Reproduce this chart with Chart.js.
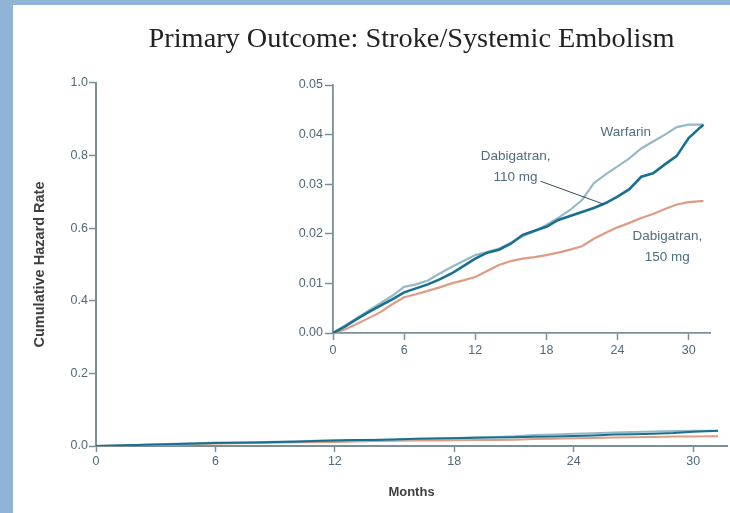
<!DOCTYPE html>
<html>
<head>
<meta charset="utf-8">
<script src="https://cdn.jsdelivr.net/npm/chart.js@4.4.1/dist/chart.umd.min.js"></script>
<style>
  html, body { margin: 0; padding: 0; }
  body { width: 730px; height: 513px; position: relative; background: #ffffff; overflow: hidden; }
  .band-left { position: absolute; left: 0; top: 0; width: 13px; height: 513px; background: #8fb4d6; }
  .band-top { position: absolute; left: 0; top: 0; width: 730px; height: 5px; background: #8fb4d6; }
  #mainChart { position: absolute; left: 0; top: 0; }
  #insetChart { position: absolute; left: 263px; top: 70px; }
</style>
</head>
<body>
<div class="band-left"></div>
<div class="band-top"></div>
<canvas id="mainChart" width="730" height="513"></canvas>
<canvas id="insetChart" width="462" height="300"></canvas>
<script>
// Data (cumulative hazard by month)
const months = [0, 1, 2, 3, 4, 5, 6, 7, 8, 9, 10, 11, 12, 13, 14, 15, 16, 17, 18, 19, 20,
  21, 22, 23, 24, 25, 26, 27, 28, 29, 30, 31, 31.25];
const warfarin = [0, 0.0015, 0.003, 0.0045, 0.006, 0.0075, 0.0093, 0.0098, 0.0106, 0.012, 0.0133,
  0.0145, 0.0157, 0.0163, 0.017, 0.0182, 0.0195, 0.0205, 0.0218, 0.0232, 0.0248,
  0.0268, 0.0302, 0.032, 0.0336, 0.0352, 0.0372, 0.0386, 0.040, 0.0415, 0.042, 0.042, 0.042];
const dabi110 = [0, 0.0013, 0.0028, 0.0042, 0.0055, 0.0068, 0.0082, 0.009, 0.0098, 0.0108, 0.012,
  0.0135, 0.015, 0.0162, 0.0168, 0.018, 0.0198, 0.0206, 0.0214, 0.0228, 0.0236,
  0.0244, 0.0252, 0.0262, 0.0275, 0.029, 0.0315, 0.0322, 0.034, 0.0357, 0.0393, 0.0415, 0.042];
const dabi150 = [0, 0.0007, 0.0018, 0.003, 0.0042, 0.0058, 0.0072, 0.0078, 0.0085, 0.0092, 0.01,
  0.0106, 0.0113, 0.0125, 0.0137, 0.0145, 0.015, 0.0153, 0.0157, 0.0162, 0.0168,
  0.0175, 0.019, 0.0202, 0.0213, 0.0222, 0.0232, 0.024, 0.025, 0.0259, 0.0264, 0.0266, 0.0266];

const xTicks = [0, 6, 12, 18, 24, 30];
const mainYTicks = [0, 0.2, 0.4, 0.6, 0.8, 1.0];
const insetYTicks = [0, 0.01, 0.02, 0.03, 0.04, 0.05];

const AXIS = '#7b8f9b';
const TICK_TEXT = '#516978';
const COLORS = { w: '#97b8c8', d110: '#17708f', d150: '#dc9d84' };

// inset labels, placed in data units
const insetLabels = [
  { lines: ['Warfarin'], month: 24.7, rate: 0.0405 },
  { lines: ['Dabigatran,', '110 mg'], month: 15.4, rate: 0.0336 },
  { lines: ['Dabigatran,', '150 mg'], month: 28.2, rate: 0.0173 }
];
const leader = { from: [17.5, 0.0306], to: [22.8, 0.026] };

function pts(vals) {
  return months.map((m, i) => ({ x: m, y: vals[i] }));
}

function datasets(widths) {
  return [
    { label: 'Dabigatran, 110 mg', data: pts(dabi110), borderColor: COLORS.d110, borderWidth: widths[0] },
    { label: 'Warfarin', data: pts(warfarin), borderColor: COLORS.w, borderWidth: widths[1] },
    { label: 'Dabigatran, 150 mg', data: pts(dabi150), borderColor: COLORS.d150, borderWidth: widths[2] }
  ].map(d => Object.assign(d, { pointRadius: 0, tension: 0, fill: false }));
}

function fixTicks(list) {
  return scale => { scale.ticks = list.map(v => ({ value: v })); };
}

const tickFont = { family: 'Liberation Sans, Arial, sans-serif', size: 12.5 };

// Main chart
new Chart(document.getElementById('mainChart'), {
  type: 'line',
  data: { datasets: datasets([2, 2, 2]) },
  options: {
    responsive: false,
    animation: false,
    devicePixelRatio: 1,
    layout: { padding: { left: 13, top: 0, right: 3, bottom: 0 } },
    plugins: {
      legend: { display: false },
      tooltip: { enabled: false },
      title: {
        display: true,
        fullSize: false,
        text: 'Primary Outcome: Stroke/Systemic Embolism',
        color: '#222222',
        font: { family: 'Liberation Serif, Times New Roman, serif', size: 28.3, weight: 'normal', lineHeight: 1.2 },
        padding: { top: 22.5, bottom: 26.5 }
      }
    },
    scales: {
      x: {
        type: 'linear', min: 0, max: 31.7,
        afterBuildTicks: fixTicks(xTicks),
        afterFit: s => { s.height = 513 - 446; },
        grid: { drawOnChartArea: false, drawTicks: true, tickLength: 6, tickColor: AXIS, tickWidth: 1.5 },
        border: { color: AXIS, width: 2 },
        ticks: { color: TICK_TEXT, font: tickFont, padding: 2, maxRotation: 0 },
        title: {
          display: true, text: 'Months', color: '#3e3e3e',
          font: { family: 'Liberation Sans, Arial, sans-serif', size: 13, weight: 'bold' },
          padding: { top: 0, bottom: 12.5 }
        }
      },
      y: {
        type: 'linear', min: 0, max: 1,
        afterBuildTicks: fixTicks(mainYTicks),
        afterFit: s => { s.width = 96 - 13; },
        grid: { drawOnChartArea: false, drawTicks: true, tickLength: 7, tickColor: AXIS, tickWidth: 1.5 },
        border: { color: AXIS, width: 2 },
        ticks: { color: TICK_TEXT, font: tickFont, padding: 1, callback: v => v.toFixed(1) },
        title: {
          display: true, text: 'Cumulative Hazard Rate', color: '#3e3e3e',
          font: { family: 'Liberation Sans, Arial, sans-serif', size: 14.5, weight: 'bold' },
          padding: { top: 18, bottom: 0 }
        }
      }
    }
  }
});

// Labels and leader line for the inset
const insetNotes = {
  id: 'insetNotes',
  afterDatasetsDraw(chart) {
    const { ctx, scales: { x, y } } = chart;
    ctx.save();
    ctx.strokeStyle = '#3c4a52';
    ctx.lineWidth = 1;
    ctx.beginPath();
    ctx.moveTo(x.getPixelForValue(leader.from[0]), y.getPixelForValue(leader.from[1]));
    ctx.lineTo(x.getPixelForValue(leader.to[0]), y.getPixelForValue(leader.to[1]));
    ctx.stroke();
    ctx.fillStyle = '#4f6d7d';
    ctx.font = '13.5px "Liberation Sans", Arial, sans-serif';
    ctx.textAlign = 'center';
    ctx.textBaseline = 'middle';
    insetLabels.forEach(l => {
      const cx = x.getPixelForValue(l.month);
      const cy = y.getPixelForValue(l.rate);
      const lh = 21;
      l.lines.forEach((t, i) => {
        ctx.fillText(t, cx, cy + (i - (l.lines.length - 1) / 2) * lh);
      });
    });
    ctx.restore();
  }
};

// Inset chart (zoomed y range)
new Chart(document.getElementById('insetChart'), {
  type: 'line',
  data: { datasets: datasets([2.6, 2.2, 2.2]) },
  plugins: [insetNotes],
  options: {
    responsive: false,
    animation: false,
    devicePixelRatio: 1,
    layout: { padding: { left: 0, top: 15, right: 15, bottom: 0 } },
    plugins: { legend: { display: false }, tooltip: { enabled: false } },
    scales: {
      x: {
        type: 'linear', min: 0, max: 31.8,
        afterBuildTicks: fixTicks(xTicks),
        afterFit: s => { s.height = 37; },
        grid: { drawOnChartArea: false, drawTicks: true, tickLength: 7, tickColor: AXIS, tickWidth: 1.5 },
        border: { color: AXIS, width: 1.8 },
        ticks: { color: TICK_TEXT, font: tickFont, padding: 3, maxRotation: 0 }
      },
      y: {
        type: 'linear', min: 0, max: 0.05,
        afterBuildTicks: fixTicks(insetYTicks),
        afterFit: s => { s.width = 70; },
        grid: { drawOnChartArea: false, drawTicks: true, tickLength: 8, tickColor: AXIS, tickWidth: 1.5 },
        border: { color: AXIS, width: 1.8 },
        ticks: { color: TICK_TEXT, font: tickFont, padding: 2, callback: v => v.toFixed(2) }
      }
    }
  }
});
</script>
</body>
</html>
